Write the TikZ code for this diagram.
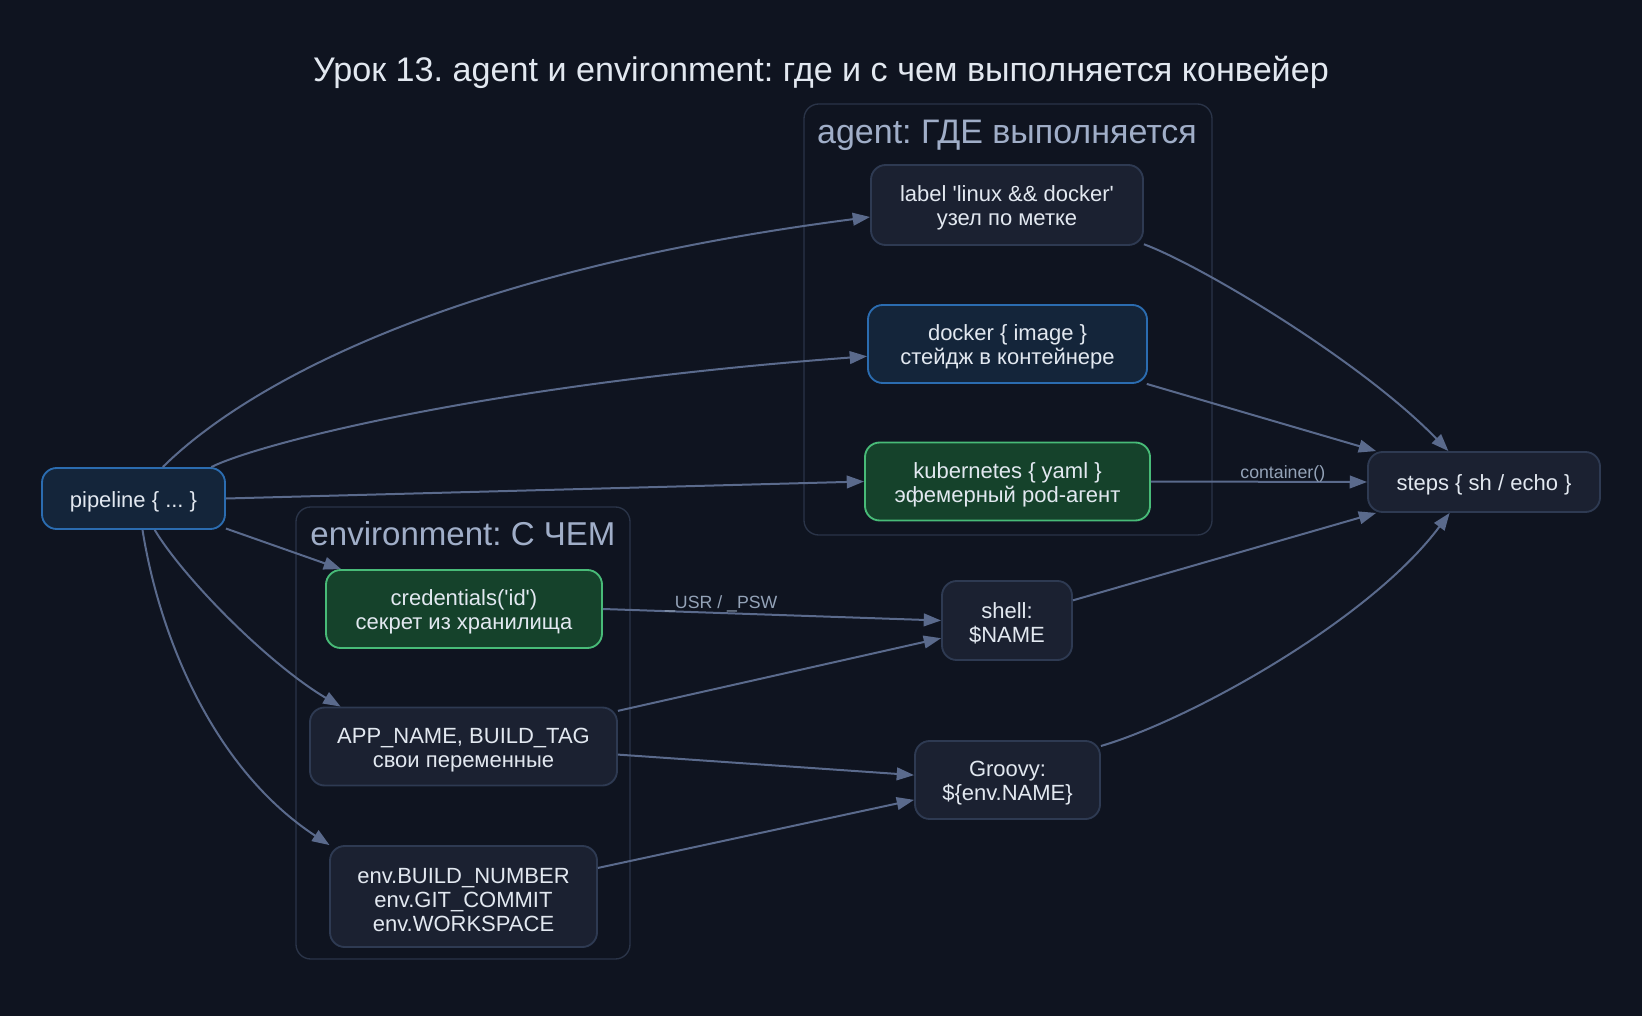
\documentclass[tikz,border=0pt]{standalone}
\usepackage{fontspec}
\setmainfont{Liberation Sans}
\usetikzlibrary{arrows.meta}
\frenchspacing
\definecolor{bg}{HTML}{0F1420}
\definecolor{nodefill}{HTML}{1B2131}
\definecolor{nodeborder}{HTML}{2E3A52}
\definecolor{bluefill}{HTML}{14253A}
\definecolor{blueborder}{HTML}{2B6CB0}
\definecolor{greenfill}{HTML}{15422B}
\definecolor{greenborder}{HTML}{48BB78}
\definecolor{edgec}{HTML}{5A6A8C}
\definecolor{txt}{HTML}{E2E8F0}
\definecolor{clborder}{HTML}{2A3448}
\definecolor{cltext}{HTML}{A0AEC8}
\definecolor{elabelc}{HTML}{94A3B8}
\begin{document}
\begin{tikzpicture}[x=0.75pt,y=-0.75pt,
  box/.style={draw=nodeborder, fill=nodefill, rounded corners=11pt, line width=1.4pt, inner sep=0pt},
  bluebox/.style={box, draw=blueborder, fill=bluefill},
  greenbox/.style={box, draw=greenborder, fill=greenfill},
  boxtext/.style={text=txt, align=center, font=\fontsize{16.5}{18}\selectfont, inner sep=0pt, yshift=-2.4pt},
  edge/.style={draw=edgec, line width=1.5pt, -{Triangle[length=13pt,width=9.5pt]}},
  elabel/.style={font=\fontsize{13.3}{14}\selectfont, text=elabelc, inner sep=0pt},
  cluster/.style={draw=clborder, line width=1pt, rounded corners=11pt, inner sep=0pt},
  cltitle/.style={font=\fontsize{25.5}{27}\selectfont, text=cltext, inner sep=0pt},
]
\fill[bg] (0,0) rectangle (1642,1016);
\useasboundingbox (0,0) rectangle (1642,1016);

\node[text=txt, font=\fontsize{25.6}{27}\selectfont, inner sep=0pt] (title) at (821,72)
  {Урок 13. agent и environment: где и с чем выполняется конвейер};

% clusters
\node[cluster, minimum width=306pt, minimum height=323.25pt] (agentcl) at (1008,319.5) {};
\node[cltitle] (agentt) at (1007,135) {agent: ГДЕ выполняется};
\node[cluster, minimum width=250.5pt, minimum height=339pt] (envcl) at (463,733) {};
\node[cltitle, font=\fontsize{24.8}{26}\selectfont] (envt) at (463,534) {environment: С ЧЕМ};

% nodes
\node[bluebox, minimum width=137.25pt, minimum height=45.75pt,
  label={[boxtext]center:{pipeline \{ ... \}}}] (pipe) at (133.5,498.5) {};
\node[box, minimum width=204pt, minimum height=60pt,
  label={[boxtext]center:{label \textquotesingle linux \&\& docker\textquotesingle\\узел по метке}}] (label) at (1007,205) {};
\node[bluebox, minimum width=209.25pt, minimum height=58.5pt,
  label={[boxtext]center:{docker \{ image \}\\стейдж в контейнере}}] (docker) at (1007.5,344) {};
\node[greenbox, minimum width=213.75pt, minimum height=58.5pt,
  label={[boxtext]center:{kubernetes \{ yaml \}\\эфемерный pod-агент}}] (kube) at (1007.5,481.5) {};
\node[box, minimum width=174pt, minimum height=45pt,
  label={[boxtext]center:{steps \{ sh / echo \}}}] (steps) at (1484,482) {};
\node[greenbox, minimum width=207pt, minimum height=58.5pt,
  label={[boxtext]center:{credentials(\textquotesingle id\textquotesingle)\\секрет из хранилища}}] (cred) at (464,609) {};
\node[box, minimum width=230.25pt, minimum height=58.5pt,
  label={[boxtext]center:{APP\_NAME, BUILD\_TAG\\свои переменные}}] (app) at (463.5,746.5) {};
\node[box, minimum width=200.25pt, minimum height=75.75pt,
  label={[boxtext]center:{env.BUILD\_NUMBER\\env.GIT\_COMMIT\\env.WORKSPACE}}] (envb) at (463.5,896.5) {};
\node[box, minimum width=97.5pt, minimum height=59.25pt,
  label={[boxtext]center:{shell:\\\$NAME}}] (shell) at (1007,620.5) {};
\node[box, minimum width=138.75pt, minimum height=58.5pt,
  label={[boxtext]center:{Groovy:\\\$\{env.NAME\}}}] (groovy) at (1007.5,780) {};

% edges
\draw[edge] (pipe.47) .. controls (230,400) and (420,275) .. (label.185);
\draw[edge] (pipe.22) .. controls (255,445) and (480,385) .. (docker.185);
\draw[edge] (pipe.east) -- (kube.west);
\draw[edge] (pipe.-18) -- (cred.162);
\draw[edge] (pipe.-56) .. controls (185,580) and (270,665) .. (app.162);
\draw[edge] (pipe.-74) .. controls (160,640) and (215,770) .. (envb.159.5);
\draw[edge] (cred.east) -- node[elabel, pos=0.35, above=0pt] {\_USR / \_PSW} (shell.west);
\draw[edge] (app.13) -- (shell.195);
\draw[edge] (app.-3) -- (groovy.177);
\draw[edge] (envb.12) -- (groovy.192);
\draw[edge] (label.-16) .. controls (1200,265) and (1360,360) .. (steps.139);
\draw[edge] (docker.-16) -- (steps.164);
\draw[edge] (kube.east) -- node[elabel, pos=0.61, above=-1.3pt] {container()} (steps.west);
\draw[edge] (shell.17) -- (steps.196);
\draw[edge] (groovy.20) .. controls (1190,720) and (1370,620) .. (steps.222);
\end{tikzpicture}
\end{document}
